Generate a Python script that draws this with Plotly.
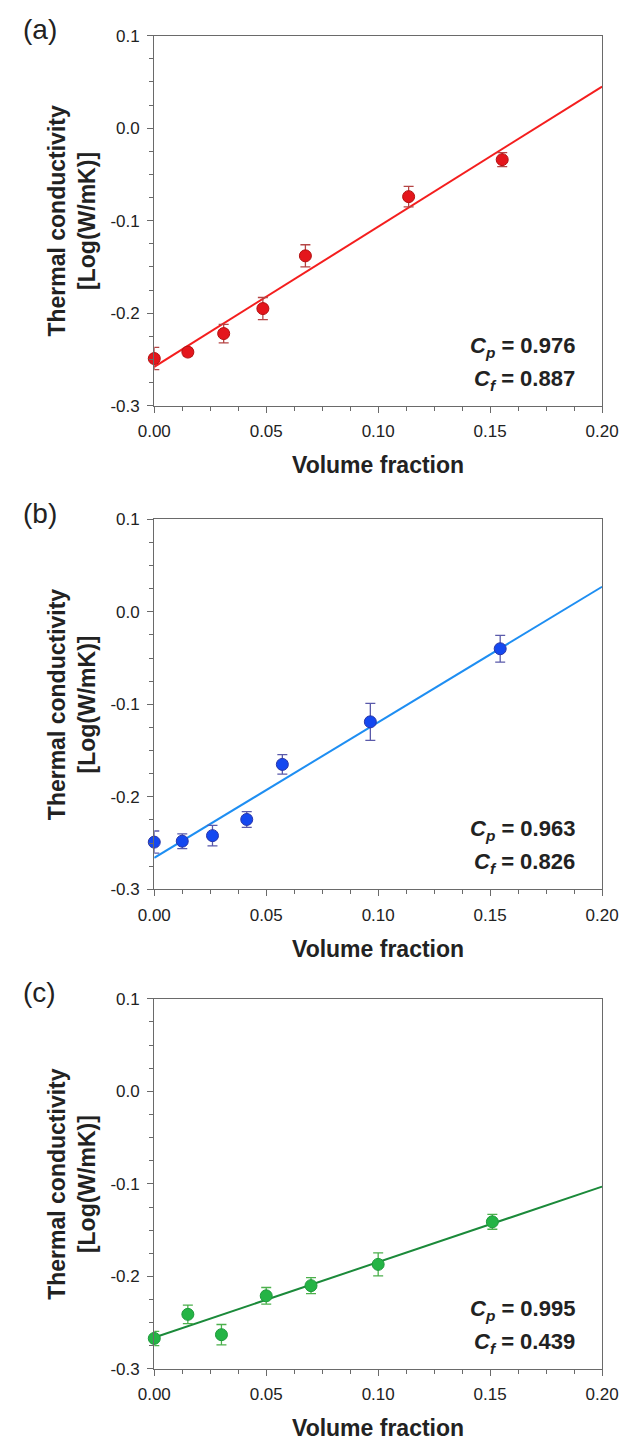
import plotly.graph_objects as go

W, H = 638, 1449

# ---------------- data ----------------
panel_labels = ["(a)", "(b)", "(c)"]

x_a = [0.0, 0.015, 0.031, 0.0485, 0.0675, 0.1136, 0.1554]
y_a = [-0.249, -0.242, -0.222, -0.195, -0.138, -0.074, -0.034]
e_a = [0.012, 0.004, 0.010, 0.012, 0.012, 0.011, 0.0075]
fit_a_x = [0.0, 0.2]
fit_a_y = [-0.258, 0.045]
cp_a, cf_a = "0.976", "0.887"

x_b = [0.0, 0.0125, 0.026, 0.0413, 0.0572, 0.0965, 0.1545]
y_b = [-0.249, -0.248, -0.242, -0.2245, -0.165, -0.119, -0.040]
e_b = [0.012, 0.008, 0.011, 0.0085, 0.0105, 0.020, 0.0145]
fit_b_x = [0.0, 0.2]
fit_b_y = [-0.266, 0.027]
cp_b, cf_b = "0.963", "0.826"

x_c = [0.0, 0.015, 0.030, 0.050, 0.070, 0.100, 0.151]
y_c = [-0.267, -0.241, -0.263, -0.221, -0.210, -0.187, -0.141]
e_c = [0.0077, 0.010, 0.011, 0.009, 0.0086, 0.0125, 0.008]
fit_c_x = [0.0, 0.2]
fit_c_y = [-0.266, -0.103]
cp_c, cf_c = "0.995", "0.439"

x_tickvals = [0.0, 0.05, 0.10, 0.15, 0.20]
x_ticktext = ["0.00", "0.05", "0.10", "0.15", "0.20"]
y_tickvals = [0.1, 0.0, -0.1, -0.2, -0.3]
y_ticktext = ["0.1", "0.0", "-0.1", "-0.2", "-0.3"]

x_title = "Volume fraction"
y_title = "Thermal conductivity<br>[Log(W/mK)]"

# ---------------- styling ----------------
styles = [
    dict(marker="#e4161c", edge="#b31010", err="#b54545", line="#f41e1e"),
    dict(marker="#1448f0", edge="#2a36a8", err="#5a5aaa", line="#1e8ef2"),
    dict(marker="#24b445", edge="#1f9a3c", err="#4cb04c", line="#1b8a3a"),
]
FONT = "Liberation Sans, Arial, sans-serif"
AXIS_COLOR = "#6a6a6a"
TEXT_COLOR = "#222222"

plot_left_px, plot_right_px = 145, 618
plot_tops_px = [27, 517, 1003]
plot_h_px = 375

panels = [
    (x_a, y_a, e_a, fit_a_x, fit_a_y, cp_a, cf_a),
    (x_b, y_b, e_b, fit_b_x, fit_b_y, cp_b, cf_b),
    (x_c, y_c, e_c, fit_c_x, fit_c_y, cp_c, cf_c),
]

fig = go.Figure()
annotations = []
xd = [plot_left_px / W, plot_right_px / W]

for i, (xs, ys, es, fx, fy, cp, cf) in enumerate(panels):
    st = styles[i]
    n = "" if i == 0 else str(i + 1)
    xa, ya = "x" + n, "y" + n
    top = plot_tops_px[i]
    bot = top + plot_h_px
    yd = [1 - bot / H, 1 - top / H]

    fig.add_trace(go.Scatter(
        x=fx, y=fy, mode="lines", xaxis=xa, yaxis=ya,
        line=dict(color=st["line"], width=2), showlegend=False,
    ))
    fig.add_trace(go.Scatter(
        x=xs, y=ys, mode="markers", xaxis=xa, yaxis=ya, cliponaxis=False,
        marker=dict(size=12, color=st["marker"], line=dict(color=st["edge"], width=1)),
        error_y=dict(type="data", array=es, visible=True, color=st["err"],
                     thickness=1.3, width=5),
        showlegend=False,
    ))

    axis_common = dict(
        showline=True, linecolor=AXIS_COLOR, linewidth=1.3, mirror=True,
        ticks="outside", tickcolor=AXIS_COLOR, ticklen=6, tickwidth=1.3,
        showgrid=False, zeroline=False, ticklabelstandoff=4,
        tickfont=dict(family=FONT, size=17, color=TEXT_COLOR),
    )
    fig.layout["xaxis" + n] = dict(
        axis_common, domain=xd, range=[0, 0.2], anchor=ya,
        tickmode="array", tickvals=x_tickvals, ticktext=x_ticktext,
        minor=dict(ticks="outside", dtick=0.0125, tick0=0, ticklen=4,
                   tickcolor=AXIS_COLOR, tickwidth=1),
    )
    fig.layout["yaxis" + n] = dict(
        axis_common, domain=yd, range=[-0.3, 0.1], anchor=xa,
        tickmode="array", tickvals=y_tickvals, ticktext=y_ticktext,
        minor=dict(ticks="outside", dtick=0.025, tick0=0, ticklen=4,
                   tickcolor=AXIS_COLOR, tickwidth=1),
    )

    # panel label
    annotations.append(dict(
        xref="paper", yref="paper", x=4 / W, y=1 - (top - 24) / H,
        xanchor="left", yanchor="top", showarrow=False,
        text=panel_labels[i], font=dict(family=FONT, size=28, color=TEXT_COLOR),
    ))
    # y title
    annotations.append(dict(
        xref="paper", yref="paper", x=58 / W, y=1 - (top + plot_h_px / 2) / H,
        xanchor="center", yanchor="middle", showarrow=False, textangle=-90,
        text="<b>" + y_title + "</b>",
        font=dict(family=FONT, size=23, color=TEXT_COLOR),
    ))
    # x title
    annotations.append(dict(
        xref="paper", yref="paper", x=(plot_left_px + plot_right_px) / 2 / W,
        y=1 - (bot + 60) / H, xanchor="center", yanchor="middle", showarrow=False,
        text="<b>" + x_title + "</b>",
        font=dict(family=FONT, size=23, color=TEXT_COLOR),
    ))
    # coefficients
    annotations.append(dict(
        xref=xa, yref=ya, x=0.189, y=-0.236, xanchor="right", yanchor="middle",
        showarrow=False,
        text="<b><i>C</i><sub><i>p</i></sub> = " + cp + "</b>",
        font=dict(family=FONT, size=22, color=TEXT_COLOR),
    ))
    annotations.append(dict(
        xref=xa, yref=ya, x=0.189, y=-0.272, xanchor="right", yanchor="middle",
        showarrow=False,
        text="<b><i>C</i><sub><i>f</i></sub> = " + cf + "</b>",
        font=dict(family=FONT, size=22, color=TEXT_COLOR),
    ))

fig.update_layout(
    width=W, height=H, margin=dict(l=0, r=0, t=0, b=0),
    paper_bgcolor="white", plot_bgcolor="white",
    annotations=annotations, showlegend=False,
)

fig.write_html("out.html")
